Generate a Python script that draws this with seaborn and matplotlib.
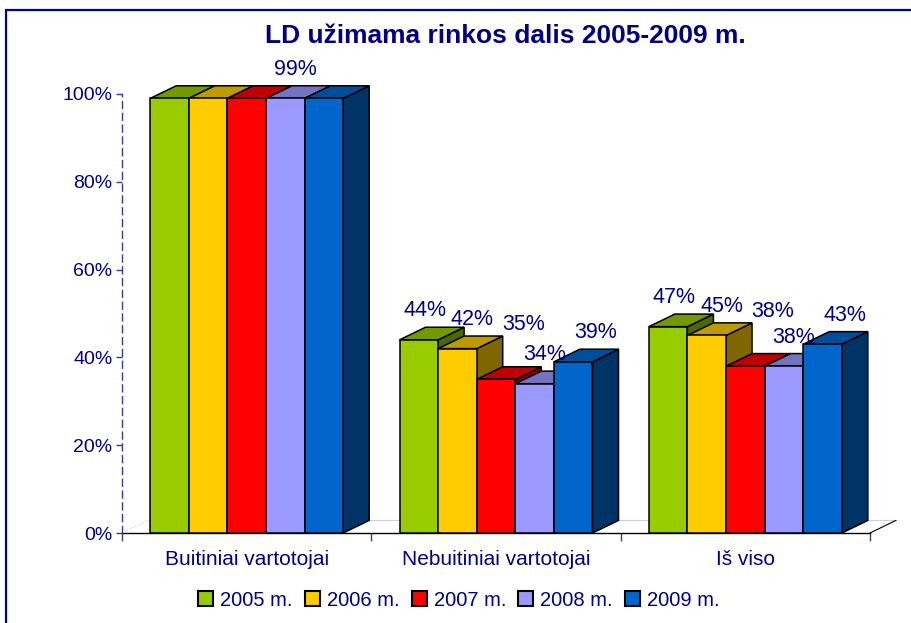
import numpy as np
import pandas as pd
import matplotlib
matplotlib.use('Agg')
import matplotlib.pyplot as plt
from matplotlib.patches import Polygon, Rectangle, Patch
import seaborn as sns

# data
categories = ['Buitiniai vartotojai', 'Nebuitiniai vartotojai', 'Iš viso']
years = ['2005 m.', '2006 m.', '2007 m.', '2008 m.', '2009 m.']
v2005 = [99, 44, 47]
v2006 = [99, 42, 45]
v2007 = [99, 35, 38]
v2008 = [99, 34, 38]
v2009 = [99, 39, 43]
colors = ['#99CC00', '#FFCC00', '#FF0000', '#9999FF', '#0066CC']
yticks = [0, 20, 40, 60, 80, 100]

navy = '#000080'

# label nudges per year (Excel moves overlapping labels around)
label_dx = [0.025, 0.06, 0.11, 0.04, 0.09]
label_dy = [6.6, 6.6, 12.5, 6.6, 6.6]

sns.set_style('white')
plt.rcParams['font.family'] = ['Liberation Sans', 'DejaVu Sans']

rows = []
for yr, vals in zip(years, [v2005, v2006, v2007, v2008, v2009]):
    for cat, v in zip(categories, vals):
        rows.append({'cat': cat, 'year': yr, 'value': v})
df = pd.DataFrame(rows)

fig = plt.figure(figsize=(9.12, 6.23), dpi=100)
ax = fig.add_axes([122 / 912, 1 - 533 / 623, 748 / 912, 439 / 623])

sns.barplot(data=df, x='cat', y='value', hue='year', hue_order=years,
            palette=colors, width=0.774, saturation=1, edgecolor='black',
            linewidth=1.1, legend=False, ax=ax)

ax.set_xlim(-0.5, 2.5)
ax.set_ylim(0, 100)

# 3d depth of the bars
dx = 0.1043
dy = 2.87

# floor
floor = Polygon([(-0.5, 0), (2.5, 0), (2.5 + dx, dy), (-0.5 + dx, dy)],
                closed=True, facecolor='white', edgecolor='none', zorder=0.5,
                clip_on=False)
ax.add_patch(floor)
ax.plot([-0.5, -0.5 + dx], [0, dy], color='#c8c8c8', lw=0.8, ls=':',
        clip_on=False, zorder=0.6)
ax.plot([-0.5 + dx, 2.5 + dx], [dy, dy], color='#d0d0d0', lw=0.8,
        clip_on=False, zorder=0.6)
ax.plot([2.5, 2.5 + dx], [0, dy], color='black', lw=0.8,
        clip_on=False, zorder=0.6)

bars = sorted([p for p in ax.patches if isinstance(p, Rectangle)],
              key=lambda p: p.get_x())
for k, p in enumerate(bars):
    x0, w, h = p.get_x(), p.get_width(), p.get_height()
    rgb = np.array(p.get_facecolor()[:3])
    top = Polygon([(x0, h), (x0 + w, h), (x0 + w + dx, h + dy), (x0 + dx, h + dy)],
                  closed=True, facecolor=rgb * 0.75, edgecolor='black',
                  linewidth=1.1, zorder=3 + 3 * k, clip_on=False)
    side = Polygon([(x0 + w, 0), (x0 + w + dx, dy), (x0 + w + dx, h + dy), (x0 + w, h)],
                   closed=True, facecolor=rgb * 0.5, edgecolor='black',
                   linewidth=1.1, zorder=2 + 3 * k, clip_on=False)
    ax.add_patch(top)
    ax.add_patch(side)
    p.set_zorder(4 + 3 * k)
    p.set_clip_on(False)

# data labels (in the first group only one is shown, the rest overlap)
for k, p in enumerate(bars):
    grp = k // 5
    idx = k % 5
    if grp == 0 and idx != 3:
        continue
    h = p.get_height()
    ax.text(p.get_x() + p.get_width() / 2 + label_dx[idx], h + label_dy[idx],
            f'{h:.0f}%', ha='center', va='center', fontsize=15.5, color=navy,
            zorder=100)

# axes styling
for s in ['top', 'right']:
    ax.spines[s].set_visible(False)
ax.spines['left'].set_linestyle((0, (5, 3.5)))
ax.spines['left'].set_color('#3a3a9a')
ax.spines['left'].set_linewidth(1.0)
ax.spines['bottom'].set_color('black')
ax.spines['bottom'].set_linewidth(1.0)
ax.spines['bottom'].set_zorder(1)

ax.set_yticks(yticks)
ax.set_yticklabels([f'{t}%' for t in yticks])
ax.tick_params(axis='y', left=True, length=4, width=1, color='#3a3a9a',
               labelsize=14, labelcolor=navy, pad=3)
ax.set_xticks([0, 1, 2])
ax.set_xticklabels(categories)
ax.set_xticks([-0.5, 0.5, 1.5, 2.5], minor=True)
ax.tick_params(axis='x', which='major', length=0, labelsize=15,
               labelcolor=navy, pad=12)
ax.tick_params(axis='x', which='minor', bottom=True, length=6, width=1,
               color='#444444')
ax.set_xlabel('')
ax.set_ylabel('')
ax.grid(False)

fig.text(505 / 912, 1 - 36 / 623, 'LD užimama rinkos dalis 2005-2009 m.',
         ha='center', va='center', fontsize=19, fontweight='bold', color=navy)

handles = [Patch(facecolor=c, edgecolor='black', linewidth=1.5) for c in colors]
fig.legend(handles, years, loc='center', bbox_to_anchor=(459 / 912, 1 - 600 / 623),
           ncol=5, frameon=False, fontsize=14.5, labelcolor=navy,
           handlelength=0.75, handleheight=0.75, handletextpad=0.35,
           columnspacing=0.6, borderaxespad=0)

# outer frame of the chart area
fig.patches.append(Rectangle((6.5 / 912, -0.1), 1.2, (623 - 10) / 623 + 0.1,
                             transform=fig.transFigure, fill=False,
                             edgecolor='#000099', linewidth=1.6))

fig.savefig('out.png', dpi=100)
